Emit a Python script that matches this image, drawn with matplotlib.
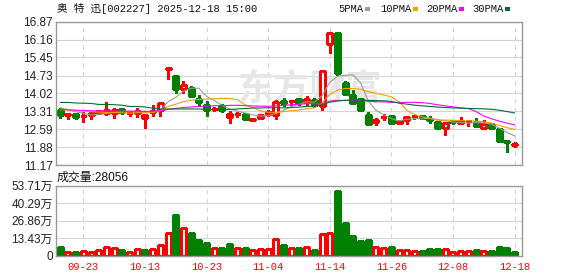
"""
K-line chart of 奥特迅 (002227): daily candles with 5/10/20/30 day moving
averages on top, volume bars below.

Output: out.png (578 x 276 px)
"""

import matplotlib
matplotlib.use("Agg")
import matplotlib.pyplot as plt
from matplotlib.patches import Rectangle
import numpy as np
import pandas as pd

# trading days shown (MM-DD)
dates = [
    "09-18", "09-19", "09-22", "09-23", "09-24", "09-25", "09-26", "09-29", "09-30", "10-09",
    "10-10", "10-13", "10-14", "10-15", "10-16", "10-17", "10-20", "10-21", "10-22", "10-23",
    "10-24", "10-27", "10-28", "10-29", "10-30", "10-31", "11-03", "11-04", "11-05", "11-06",
    "11-07", "11-10", "11-11", "11-12", "11-13", "11-14", "11-17", "11-18", "11-19", "11-20",
    "11-21", "11-24", "11-25", "11-26", "11-27", "11-28", "12-01", "12-02", "12-03", "12-04",
    "12-05", "12-08", "12-09", "12-10", "12-11", "12-12", "12-15", "12-16", "12-17", "12-18",
]

opens = [
    13.37, 13.18, 13.20, 13.11, 13.15, 13.24, 13.24, 13.24, 13.40, 13.23,
    13.23, 13.04, 13.26, 13.37, 15.01, 14.73, 14.19, 14.22, 13.81, 13.56,
    13.40, 13.50, 13.07, 13.19, 13.19, 12.98, 13.05, 13.21, 13.17, 13.70,
    13.71, 13.78, 13.66, 13.76, 13.52, 16.00, 16.44, 14.43, 13.94, 13.81,
    13.16, 12.88, 13.08, 13.11, 12.85, 12.95, 13.12, 13.13, 13.00, 12.90,
    12.64, 12.92, 12.83, 12.91, 12.90, 12.63, 12.79, 12.60, 12.12, 11.97,
]
highs = [
    13.42, 13.21, 13.24, 13.26, 13.23, 13.37, 13.69, 13.45, 13.41, 13.32,
    13.45, 13.21, 13.56, 13.65, 15.02, 14.73, 14.51, 14.30, 13.97, 13.70,
    13.48, 13.58, 13.33, 13.27, 13.19, 13.03, 13.20, 13.35, 13.76, 13.85,
    13.73, 13.84, 13.90, 13.84, 14.92, 16.41, 16.44, 14.52, 14.14, 13.81,
    13.26, 13.05, 13.20, 13.17, 12.96, 13.08, 13.18, 13.16, 13.13, 12.90,
    12.86, 12.92, 13.10, 12.98, 13.04, 12.98, 12.82, 12.64, 12.12, 12.10,
]
lows = [
    13.03, 13.00, 12.99, 12.87, 13.00, 13.19, 13.17, 13.03, 13.20, 13.11,
    13.09, 12.63, 13.11, 13.13, 14.60, 14.03, 14.03, 13.90, 13.53, 13.14,
    13.30, 13.26, 12.84, 13.08, 13.00, 12.97, 12.99, 13.11, 13.02, 13.53,
    13.56, 13.55, 13.57, 13.46, 13.34, 15.64, 14.77, 13.94, 13.62, 13.33,
    12.79, 12.78, 12.95, 12.85, 12.80, 12.82, 13.00, 13.00, 12.83, 12.63,
    12.35, 12.82, 12.83, 12.71, 12.71, 12.63, 12.62, 12.11, 11.70, 11.88,
]
closes = [
    13.15, 13.19, 13.08, 13.13, 13.23, 13.32, 13.35, 13.35, 13.28, 13.25,
    13.33, 13.15, 13.32, 13.65, 15.02, 14.19, 14.36, 13.90, 13.66, 13.37,
    13.41, 13.37, 13.21, 13.21, 13.00, 13.02, 13.15, 13.28, 13.66, 13.64,
    13.73, 13.64, 13.78, 13.56, 14.92, 16.41, 14.83, 14.00, 13.62, 13.35,
    12.79, 12.98, 13.10, 12.85, 12.92, 13.08, 13.14, 13.05, 12.98, 12.63,
    12.86, 12.88, 12.91, 12.92, 12.71, 12.80, 12.64, 12.11, 12.09, 11.99,
]

# volume in 万 (10k) shares
volumes = [
    6.2, 2.8, 2.8, 3.6, 2.8, 4.4, 6.5, 5.9, 3.9, 2.8,
    4.9, 3.9, 5.2, 8.3, 17.6, 31.0, 21.5, 17.1, 11.9, 9.3,
    5.9, 5.4, 8.5, 5.4, 5.4, 3.9, 4.7, 5.2, 12.9, 7.8,
    5.4, 5.4, 6.7, 3.9, 16.8, 17.6, 49.7, 24.8, 14.8, 10.9,
    11.6, 6.7, 5.9, 6.2, 4.4, 4.4, 3.6, 3.1, 4.7, 4.7,
    5.2, 2.8, 3.6, 3.6, 3.9, 3.6, 3.1, 6.2, 5.4, 2.8,
]
# volume bar colour as drawn (True = red / up)
vol_up = [
    0, 1, 0, 1, 1, 1, 1, 1, 0, 1,
    1, 0, 1, 1, 1, 0, 1, 0, 0, 0,
    1, 0, 0, 1, 0, 1, 1, 1, 1, 0,
    1, 0, 1, 0, 1, 1, 0, 0, 0, 0,
    0, 1, 1, 0, 1, 1, 1, 0, 0, 0,
    1, 1, 1, 1, 0, 1, 0, 0, 0, 0,
]

# moving average values before a full window is visible
ma5_head = [13.45, 13.37, 13.29, 13.23]
ma10_head = [13.37, 13.36, 13.34, 13.32, 13.29, 13.28, 13.26, 13.26, 13.25]
ma20_head = [13.38, 13.37, 13.35, 13.34, 13.33, 13.32, 13.32, 13.31, 13.31, 13.31,
             13.31, 13.30, 13.31, 13.33, 13.38, 13.42, 13.46, 13.48, 13.50]
ma30_head = [13.66, 13.66, 13.64, 13.63, 13.62, 13.58, 13.58, 13.57, 13.55, 13.50,
             13.50, 13.48, 13.43, 13.40, 13.40, 13.40, 13.40, 13.40, 13.40, 13.38,
             13.38, 13.38, 13.38, 13.40, 13.42, 13.44, 13.44, 13.45, 13.45]

price_ticks = ["16.87", "16.16", "15.45", "14.73", "14.02", "13.31", "12.59", "11.88", "11.17"]
vol_ticks = [0, 13.43, 26.86, 40.29, 53.71]
vol_tick_labels = ["0", "13.43万", "26.86万", "40.29万", "53.71万"]

RED = "#ff0000"
GREEN = "#008000"
GRID = "#d4d4d4"
FRAME = "#999999"
MA_COLORS = {5: "#9a9a9a", 10: "#f0a000", 20: "#ff00ff", 30: "#006f30"}

SANS = ["Liberation Sans", "Noto Sans CJK SC"]
MONO = ["Liberation Mono", "Noto Sans CJK SC"]
plt.rcParams["font.family"] = SANS


def moving_average(n, head):
    ma = pd.Series(closes).rolling(n).mean().to_numpy()
    ma[: n - 1] = head
    return ma


def style_axis(ax):
    for sp in ax.spines.values():
        sp.set_color(FRAME)
        sp.set_linewidth(1.0)
    ax.tick_params(length=0, labelsize=8.5, labelcolor="#222222", pad=2)


W, H = 578, 276
fig = plt.figure(figsize=(W / 100, H / 100), dpi=100)
fig.patch.set_facecolor("white")

left, right = 55.5, 522.3
ax = fig.add_axes([left / W, 1 - 165 / H, (right - left) / W, (165 - 21.8) / H])
axv = fig.add_axes([left / W, 1 - 255.5 / H, (right - left) / W, (255.5 - 185.7) / H])

n = len(closes)
x = np.arange(n)
label_idx = list(range(3, n, 8))
body_w = 0.65

# ---- price panel ----
ax.set_xlim(-0.62, n)
ax.set_ylim(float(price_ticks[-1]), float(price_ticks[0]))
ax.set_yticks([float(t) for t in price_ticks])
ax.set_yticklabels(price_ticks)
ax.set_xticks([])
for t in price_ticks:
    ax.axhline(float(t), color=GRID, lw=0.8, zorder=0)
for i in label_idx:
    ax.axvline(i, color=GRID, lw=0.8, ls=(0, (4, 4)), zorder=0)
style_axis(ax)

# faint site watermark
ax.text(0.545, 0.53, "东方财富", transform=ax.transAxes, ha="center", va="center",
        fontsize=26, fontweight="bold", color="#e6e6e6", family="Noto Sans CJK SC",
        zorder=0.5)

for i in range(n):
    o, h, l, c = opens[i], highs[i], lows[i], closes[i]
    up = c >= o
    col = RED if up else GREEN
    ax.vlines(i, l, h, color=col, lw=0.75, zorder=2, antialiased=False)
    ax.add_patch(Rectangle((i - body_w / 2, min(o, c)), body_w, abs(c - o),
                           facecolor="white" if up else col, edgecolor=col,
                           lw=0.75, zorder=2.5, antialiased=False))

for period, head in [(5, ma5_head), (10, ma10_head), (20, ma20_head), (30, ma30_head)]:
    ax.plot(x, moving_average(period, head), color=MA_COLORS[period], lw=0.8, zorder=3)

# ---- volume panel ----
axv.set_xlim(-0.62, n)
axv.set_ylim(0, vol_ticks[-1])
axv.set_yticks(vol_ticks)
axv.set_yticklabels(vol_tick_labels)
for t in vol_ticks:
    axv.axhline(t, color=GRID, lw=0.8, zorder=0)
for i in label_idx:
    axv.axvline(i, color=GRID, lw=0.8, ls=(0, (4, 4)), zorder=0)
style_axis(axv)

for i in range(n):
    col = RED if vol_up[i] else GREEN
    axv.add_patch(Rectangle((i - body_w / 2, 0), body_w, volumes[i],
                            facecolor="white" if vol_up[i] else col, edgecolor=col,
                            lw=0.75, zorder=2, antialiased=False))

axv.set_xticks(label_idx)
axv.set_xticklabels([dates[i] for i in label_idx])
axv.tick_params(axis="x", pad=5, labelcolor=RED, labelsize=7.5)
for lbl in axv.get_xticklabels():
    lbl.set_fontfamily(MONO)

# ---- header texts ----
fig.text(57 / W, 1 - 8.5 / H, "奥 特 迅[002227] 2025-12-18 15:00", ha="left", va="center",
         fontsize=7.6, family=MONO, color="#111111")

legend = [("5PMA", 338, 5), ("10PMA", 380, 10), ("20PMA", 426, 20), ("30PMA", 472, 30)]
for label, lx, period in legend:
    fig.text(lx / W, 1 - 9 / H, label, ha="left", va="center", fontsize=7.6,
             family=MONO, color="#111111")
    sq_x = lx + len(label) * 6.25 + 2
    fig.patches.append(Rectangle((sq_x / W, 1 - 11 / H), 5 / W, 4 / H,
                                 transform=fig.transFigure, facecolor=MA_COLORS[period],
                                 edgecolor="none"))

fig.text(57 / W, 1 - 177.5 / H, "成交量:28056", ha="left", va="center",
         fontsize=8.6, family=SANS, color="#111111")

fig.savefig("out.png", dpi=100)
plt.close(fig)
